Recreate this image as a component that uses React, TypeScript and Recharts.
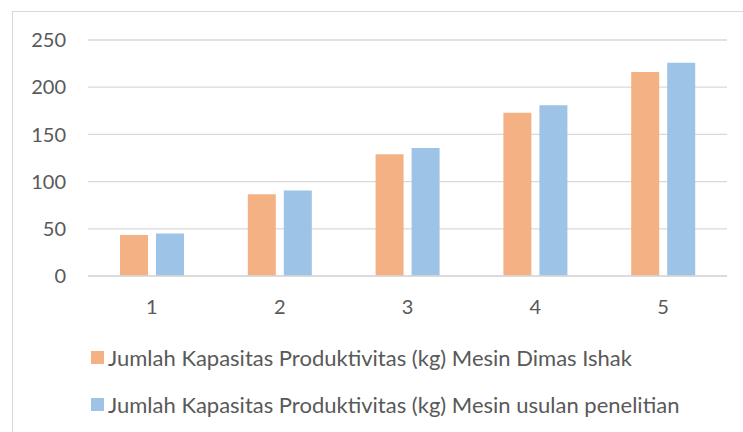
import * as React from 'react';
import { BarChart, Bar, XAxis, YAxis, CartesianGrid, Legend } from 'recharts';

const categories = ['1', '2', '3', '4', '5'];
const mesinDimasIshak = [43.5, 86.5, 129, 173, 216];
const mesinUsulan = [45, 90.5, 135.5, 181, 226];
const yTicks = [0, 50, 100, 150, 200, 250];

const seriesNames = [
  'Jumlah Kapasitas Produktivitas (kg) Mesin Dimas Ishak',
  'Jumlah Kapasitas Produktivitas (kg) Mesin usulan penelitian',
];
const colors = ['#F4B183', '#9DC3E6'];

const data = categories.map((name, i) => ({
  name,
  dimas: mesinDimasIshak[i],
  usulan: mesinUsulan[i],
}));

const font = 'Lato, "Open Sans", sans-serif';

function LegendBox() {
  return (
    <div style={{ fontFamily: font, fontSize: 22, color: '#595959' }}>
      {seriesNames.map((label, i) => (
        <div key={label} style={{ display: 'flex', alignItems: 'center', height: 47 }}>
          <span style={{ width: 13, height: 13, background: colors[i], marginRight: 4, flex: 'none' }} />
          <span style={{ whiteSpace: 'nowrap' }}>{label}</span>
        </div>
      ))}
    </div>
  );
}

export default function App() {
  return (
    <div style={{ position: 'absolute', left: 0, top: 0, width: 743, height: 432, overflow: 'hidden', background: '#fff' }}>
      <div style={{ position: 'absolute', left: 12, top: 11, width: 800, height: 500, border: '1px solid #d9d9d9' }} />
      <BarChart
        width={743}
        height={432}
        data={data}
        margin={{ top: 40, right: 16, left: 0, bottom: 156 - 50 }}
        barSize={28}
        barGap={8}
        style={{ position: 'absolute', left: 0, top: 0 }}
      >
        <CartesianGrid vertical={false} stroke="#d9d9d9" strokeWidth={1.3} />
        <XAxis
          dataKey="name"
          height={50}
          tickSize={0}
          tickMargin={24}
          axisLine={{ stroke: '#d9d9d9', strokeWidth: 1.3 }}
          tickLine={false}
          tick={{ fill: '#595959', fontSize: 20, fontFamily: font }}
        />
        <YAxis
          width={88}
          domain={[0, 250]}
          ticks={yTicks}
          tickSize={0}
          tickMargin={22}
          axisLine={false}
          tickLine={false}
          tick={{ fill: '#595959', fontSize: 20, fontFamily: font }}
        />
        <Legend
          layout="vertical"
          align="center"
          verticalAlign="middle"
          content={() => <LegendBox />}
          wrapperStyle={{ left: 91, top: 334, width: 640 }}
        />
        <Bar dataKey="dimas" name={seriesNames[0]} fill={colors[0]} isAnimationActive={false} />
        <Bar dataKey="usulan" name={seriesNames[1]} fill={colors[1]} isAnimationActive={false} />
      </BarChart>
    </div>
  );
}
